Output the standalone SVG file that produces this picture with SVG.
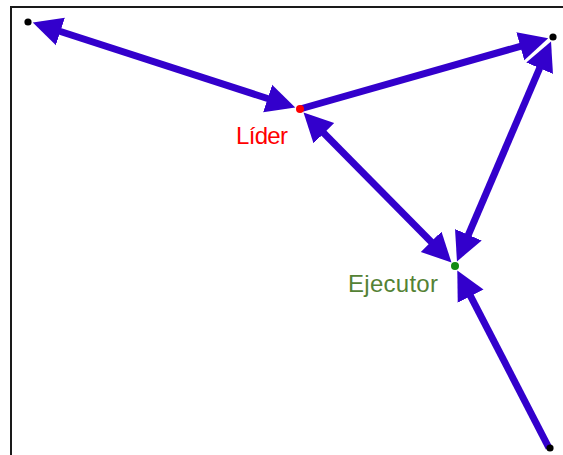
<svg xmlns="http://www.w3.org/2000/svg" width="563" height="455" viewBox="0 0 563 455">
<style>
.frame{fill:none;stroke:#1a1a1a;stroke-width:2}
.conn{fill:none;stroke:#3300CC;stroke-width:7;marker-end:url(#head)}
.both{marker-start:url(#head)}
.pt{fill:#000}
.lbl{font-family:"Liberation Sans",Arial,sans-serif;font-size:24px}
</style>
<defs>
<marker id="head" markerUnits="userSpaceOnUse" markerWidth="32" markerHeight="32" viewBox="0 -16 32 32" refX="21" refY="0" orient="auto-start-reverse">
<path d="M0,-14.5 L29,0 L0,14.5 Z" fill="#3300CC"/>
</marker>
</defs>
<path class="frame" d="M11,455 V7 H563"/>
<g id="connectors">
<path class="conn both" d="M40.37,25 L287.63,105"/>
<path class="conn" d="M300,109 L540.5,40.56"/>
<path class="conn both" d="M547.89,48.95 L460.11,254.05"/>
<path class="conn both" d="M309.13,118.25 L445.87,256.75"/>
<path class="conn" d="M549,448 L460.97,277.55"/>
</g>
<g id="nodeA"><circle class="pt" cx="28" cy="22" r="3.6"/></g>
<g id="nodeB"><circle class="pt" cx="553" cy="37" r="3.6"/></g>
<g id="nodeD"><circle class="pt" cx="550" cy="448" r="3.6"/></g>
<g id="lider"><circle cx="300" cy="109" r="4" fill="#FF0000"/><text class="lbl" x="236" y="144" fill="#FF0000" textLength="52">Líder</text></g>
<g id="ejecutor"><circle cx="455" cy="266" r="4" fill="#128A12"/><text class="lbl" x="348" y="292" fill="#548235" textLength="90">Ejecutor</text></g>
</svg>
